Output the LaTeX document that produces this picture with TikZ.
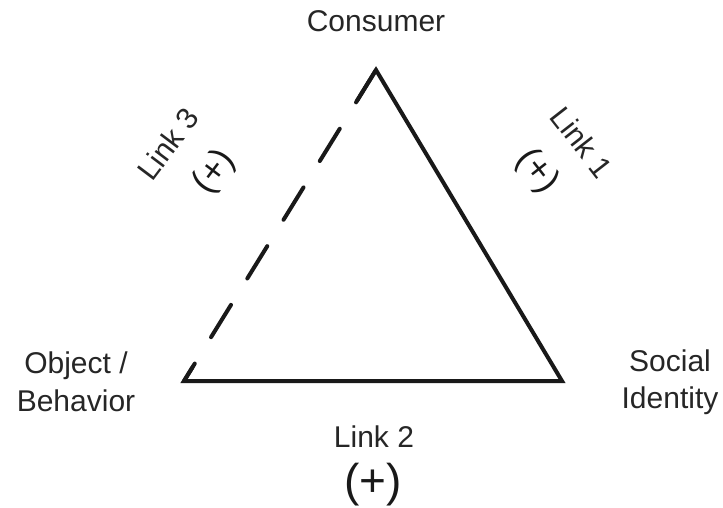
\documentclass[tikz,border=0pt]{standalone}
\usepackage{fontspec}
\setmainfont{Liberation Sans}
\usetikzlibrary{calc}
\begin{document}
\begin{tikzpicture}[x=1pt,y=-1pt,
  lbl/.style={font=\fontsize{30}{37.5}\selectfont, inner sep=0pt, align=center, text=black!85},
  plus/.style={font=\fontsize{36}{40}\selectfont, inner sep=0pt, text=black!90},
  bigplus/.style={font=\fontsize{46}{50}\selectfont, inner sep=0pt, text=black!90},
  edge/.style={line width=4pt, black!90},
]
\useasboundingbox (0,0) rectangle (723,508);
\coordinate (top) at (376,70);
\coordinate (bl) at (184,381);
\coordinate (br) at (562,381);

\draw[edge, line join=miter, line cap=round] ($(top)!36pt!(bl)$) -- (top) -- (br) -- (bl) -- ($(bl)!16pt!(top)$);
\draw[edge, line cap=round, dash pattern=on 38pt off 31pt] (top) -- (bl);

\node[lbl] (consumer) at (376,21) {Consumer};
\node[lbl] (object) at (76,382) {Object /\\Behavior};
\node[lbl] (social) at (670,382) {Social\\Identity};
\node[lbl] (link2) at (374,437) {Link 2};
\node[bigplus] (plus2) at (373,485) {(+)};
\node[lbl, rotate=53] (link3) at (168,144) {Link 3};
\node[plus, rotate=53] (plus3) at (215,172) {(+)};
\node[lbl, rotate=-52] (link1) at (582,142) {Link 1};
\node[plus, rotate=-52] (plus1) at (537,171) {(+)};
\end{tikzpicture}
\end{document}
